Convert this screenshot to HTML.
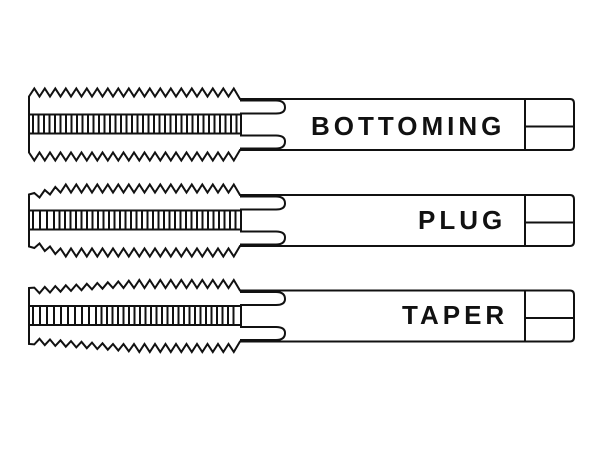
<!DOCTYPE html>
<html><head><meta charset="utf-8"><style>
html,body{margin:0;padding:0;background:#fff;width:600px;height:450px;overflow:hidden}
svg{display:block}
text{font-family:"Liberation Sans",sans-serif;font-weight:bold;font-size:26px;fill:#111;letter-spacing:4px}
</style></head><body>
<svg id="s" width="600" height="450" viewBox="0 0 600 450">
<text x="311" y="135">BOTTOMING</text>
<text x="418" y="229">PLUG</text>
<text x="402" y="324">TAPER</text>
</svg>
<script>
var s=document.getElementById('s'),NS='http://www.w3.org/2000/svg';
function el(t,a){var e=document.createElementNS(NS,t);for(var k in a)e.setAttribute(k,a[k]);s.appendChild(e);return e;}
function tap(c,chLen,endH){
  var x0=29,x1=238,p=10.5;
  var env=function(x){if(chLen<=0)return 36;var v=endH+(x-x0)*(36-endH)/chLen;return Math.min(36,v);};
  var top=[],bot=[];
  var n=Math.floor((x1-x0)/(p/2));
  for(var i=0;i<=n;i++){
    var x=x0+i*p/2;
    var peak=(i%2==1);
    var h=peak?env(x):Math.min(28,env(x)-6);
    if(i==0)h=Math.min(endH,28);
    top.push([x,c-h]);bot.push([x,c+h]);
  }
  var d='M'+x0+','+(c-Math.min(endH,28));
  top.forEach(function(q){d+=' L'+q[0].toFixed(1)+','+q[1].toFixed(1);});
  d+=' L240,'+(c-25.5)+' L570,'+(c-25.5)+' Q574,'+(c-25.5)+' 574,'+(c-21)+' L574,'+(c+21)+' Q574,'+(c+25.5)+' 570,'+(c+25.5)+' L240,'+(c+25.5);
  for(var i=bot.length-1;i>=0;i--)d+=' L'+bot[i][0].toFixed(1)+','+bot[i][1].toFixed(1);
  d+=' Z';
  el('path',{d:d,fill:'none',stroke:'#111','stroke-width':2,'stroke-linejoin':'miter'});
  el('rect',{x:x0,y:c-10,width:212,height:19,fill:'none',stroke:'#111','stroke-width':2});
  for(var x=x0+4;x<238;x+=(x<x0+chLen*0.6?7:5.5))el('line',{x1:x,y1:c-10,x2:x,y2:c+9,stroke:'#111','stroke-width':2});
  el('path',{d:'M240,'+(c-24)+' L276,'+(c-24)+' Q285,'+(c-24)+' 285,'+(c-17)+' Q285,'+(c-11)+' 276,'+(c-11)+' L240,'+(c-11),fill:'none',stroke:'#111','stroke-width':2});
  el('path',{d:'M240,'+(c+24)+' L276,'+(c+24)+' Q285,'+(c+24)+' 285,'+(c+17)+' Q285,'+(c+11)+' 276,'+(c+11)+' L240,'+(c+11),fill:'none',stroke:'#111','stroke-width':2});
  el('line',{x1:525,y1:c-25.5,x2:525,y2:c+25.5,stroke:'#111','stroke-width':2});
  el('line',{x1:525,y1:c+2,x2:574,y2:c+2,stroke:'#111','stroke-width':2});
}
tap(124.5,0,32);
tap(220.5,35,26);
tap(316,110,28);
</script>
</body></html>
